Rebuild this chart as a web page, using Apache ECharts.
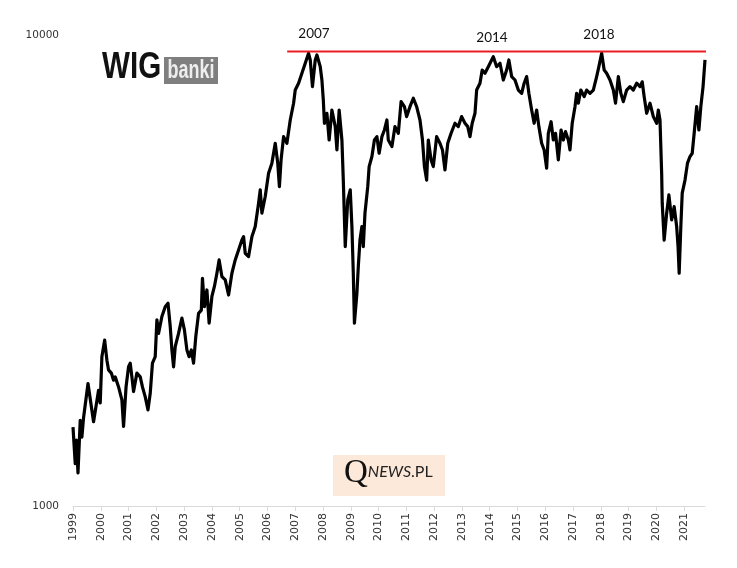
<!DOCTYPE html>
<html>
<head>
    <title>WIG banki 1999-2021</title>
    <meta charset="utf-8">
    <script src="https://cdn.jsdelivr.net/npm/echarts@6.0.0/dist/echarts.min.js"></script>
</head>
<body style="margin:0;background:#fff">
    <div id="main" style="width:737px;height:568px;"></div>
    <script type="text/javascript">
        // WIG banki (decimal year, index level)
        var years = [
            1999.0, 1999.08, 1999.12, 1999.18, 1999.26, 1999.32, 1999.38, 1999.54, 1999.74, 1999.92, 1999.98,
            2000.04, 2000.14, 2000.22, 2000.28, 2000.38, 2000.46, 2000.52, 2000.64, 2000.76, 2000.82, 2000.91,
            2001.0, 2001.06, 2001.12, 2001.18, 2001.3, 2001.42, 2001.5, 2001.6, 2001.7, 2001.78, 2001.86, 2001.96,
            2002.02, 2002.08, 2002.2, 2002.32, 2002.42, 2002.5, 2002.56, 2002.62, 2002.68, 2002.8, 2002.92,
            2003.01, 2003.1, 2003.18, 2003.26, 2003.34, 2003.42, 2003.52, 2003.62, 2003.66, 2003.73, 2003.82, 2003.9,
            2004.0, 2004.09, 2004.18, 2004.26, 2004.36, 2004.48, 2004.6, 2004.72, 2004.84, 2004.96,
            2005.08, 2005.14, 2005.2, 2005.32, 2005.44, 2005.56, 2005.68, 2005.74, 2005.8, 2005.92,
            2006.04, 2006.16, 2006.28, 2006.37, 2006.43, 2006.49, 2006.58, 2006.7, 2006.82, 2006.94,
            2007.0, 2007.12, 2007.24, 2007.36, 2007.48, 2007.54, 2007.62, 2007.72, 2007.78, 2007.9, 2007.96,
            2008.01, 2008.05, 2008.14, 2008.22, 2008.32, 2008.44, 2008.5, 2008.58, 2008.68, 2008.73, 2008.8, 2008.89, 2008.98,
            2009.04, 2009.09, 2009.13, 2009.22, 2009.27, 2009.33, 2009.4, 2009.45, 2009.51, 2009.61, 2009.66, 2009.76, 2009.85, 2009.94,
            2010.02, 2010.12, 2010.21, 2010.3, 2010.35, 2010.48, 2010.59, 2010.71, 2010.81, 2010.93,
            2011.01, 2011.13, 2011.25, 2011.37, 2011.49, 2011.58, 2011.65, 2011.73, 2011.79, 2011.89, 2011.97,
            2012.09, 2012.21, 2012.3, 2012.39, 2012.49, 2012.61, 2012.75, 2012.87, 2012.99,
            2013.11, 2013.21, 2013.29, 2013.37, 2013.47, 2013.53, 2013.65, 2013.73, 2013.83, 2013.95,
            2014.07, 2014.13, 2014.25, 2014.37, 2014.49, 2014.61, 2014.69, 2014.79, 2014.91,
            2015.03, 2015.15, 2015.24, 2015.33, 2015.41, 2015.51, 2015.6, 2015.69, 2015.77, 2015.87, 2015.96,
            2016.05, 2016.11, 2016.21, 2016.29, 2016.37, 2016.47, 2016.57, 2016.65, 2016.73, 2016.83, 2016.89, 2016.97,
            2017.07, 2017.13, 2017.19, 2017.28, 2017.4, 2017.49, 2017.61, 2017.73, 2017.85, 2017.93,
            2018.03, 2018.12, 2018.21, 2018.33, 2018.45, 2018.53, 2018.63, 2018.72, 2018.81, 2018.93,
            2019.05, 2019.17, 2019.29, 2019.41, 2019.49, 2019.56, 2019.65, 2019.77, 2019.89,
            2020.01, 2020.07, 2020.13, 2020.19, 2020.21, 2020.28, 2020.37, 2020.45, 2020.55, 2020.64, 2020.73, 2020.78, 2020.82, 2020.88, 2020.93,
            2021.03, 2021.12, 2021.21, 2021.29, 2021.36, 2021.45, 2021.53, 2021.6, 2021.68, 2021.75
        ];
        var values = [
            1470, 1230, 1380, 1175, 1520, 1400, 1540, 1820, 1510, 1760, 1655,
            2075, 2250, 2040, 1945, 1915, 1850, 1880, 1790, 1680, 1475, 1790,
            1975, 2010, 1880, 1750, 1915, 1880, 1790, 1705, 1600, 1735, 2010, 2075,
            2485, 2325, 2525, 2650, 2695, 2405, 2145, 1975, 2180, 2325, 2505,
            2365, 2145, 2075, 2145, 2010, 2290, 2565, 2605, 3045, 2650, 2875, 2445,
            2785, 2925, 3120, 3330, 3070, 3020, 2805, 3120, 3330, 3495,
            3670, 3730, 3440, 3385, 3730, 3920, 4395, 4690, 4185, 4540,
            5085, 5345, 5890, 5345, 4765, 5430, 6085, 5890, 6600, 7165,
            7640, 7900, 8295, 8710, 9145, 8850, 7770, 8850, 9070, 8565, 8025,
            7280, 6495, 6820, 5985, 6930, 6390, 5700, 6930, 5985, 4920, 3555, 4465, 4690,
            3920, 3120, 2445, 2830, 3225, 3670, 3920, 3555, 4185, 4765, 5255, 5520, 5985, 6085,
            5610, 6085, 6285, 6600, 5985, 5795, 6390, 6185, 7220, 7045,
            6710, 7045, 7340, 7045, 6600, 5985, 5255, 4920, 5985, 5430, 5255,
            6085, 5890, 5700, 5170, 5890, 6185, 6495, 6390, 6710,
            6495, 6390, 6085, 6495, 6820, 7640, 7900, 8425, 8295, 8565,
            8850, 8995, 8565, 8710, 8025, 8425, 8850, 8160, 8025,
            7640, 7520, 7900, 8160, 7520, 6930, 6495, 6930, 6390, 5890, 5700,
            5215, 6185, 6545, 5985, 6185, 5430, 6285, 5985, 6235, 5985, 5700, 6495,
            7045, 7520, 7165, 7640, 7400, 7640, 7520, 7640, 8160, 8565,
            9145, 8425, 8295, 8025, 7640, 7165, 8160, 7520, 7220, 7640,
            7770, 7640, 7900, 7770, 7955, 7400, 6820, 7165, 6710,
            6495, 6930, 6600, 5085, 4395, 3670, 4185, 4575, 4050, 4320, 3920, 3555, 3120, 3920, 4615,
            4920, 5345, 5520, 5610, 6185, 7045, 6285, 7045, 7770, 8850
        ];

        var tickYears = [];
        for (var y = 1999; y <= 2021; y++) tickYears.push(y);
        var yTicks = [1000, 10000];

        // red "previous highs" level
        var peakLevel = 9230;
        var peakLineYears = [2006.71, 2022.37];
        var peakLabels = ['2007', '2014', '2018'];

        var lineData = [];
        for (var i = 0; i < Math.min(years.length, values.length); i++) {
            lineData.push([years[i], values[i]]);
        }

        var myChart = echarts.init(document.getElementById('main'));

        var option = {
            backgroundColor: '#fff',
            animation: false,
            grid: {
                left: 73,
                right: 32,
                top: 35,
                bottom: 62
            },
            xAxis: {
                type: 'value',
                min: 1999,
                max: 2021.75,
                splitLine: { show: false },
                axisLine: { lineStyle: { color: '#d9d9d9', width: 1 } },
                axisTick: {
                    customValues: tickYears,
                    length: 5,
                    lineStyle: { color: '#d9d9d9' }
                },
                axisLabel: {
                    customValues: tickYears,
                    rotate: 90,
                    margin: 7,
                    fontFamily: 'DejaVu Sans',
                    fontSize: 11,
                    color: '#333',
                    formatter: function (v) { return String(v); }
                }
            },
            yAxis: {
                type: 'log',
                logBase: 10,
                min: 1000,
                max: 10000,
                splitLine: { show: false },
                axisLine: { show: false },
                axisTick: { show: false },
                axisLabel: {
                    customValues: yTicks,
                    margin: 14,
                    fontFamily: 'DejaVu Sans',
                    fontSize: 10.5,
                    color: '#333',
                    formatter: function (v) { return String(Math.round(v)); }
                }
            },
            series: [{
                name: 'WIG banki',
                type: 'line',
                data: lineData,
                showSymbol: false,
                lineStyle: { color: '#000', width: 3.2, join: 'round' },
                z: 3
            }, {
                name: 'level',
                type: 'line',
                clip: false,
                data: [[peakLineYears[0], peakLevel], [peakLineYears[1], peakLevel]],
                showSymbol: false,
                lineStyle: { color: '#ec1c24', width: 2 },
                z: 4
            }],
            graphic: [
                // peak year labels
                { type: 'text', x: 314, y: 34, style: { text: peakLabels[0], fontFamily: 'Lato', fontSize: 13.5, fill: '#111', align: 'center', verticalAlign: 'middle' } },
                { type: 'text', x: 492, y: 38, style: { text: peakLabels[1], fontFamily: 'Lato', fontSize: 13.5, fill: '#111', align: 'center', verticalAlign: 'middle' } },
                { type: 'text', x: 599, y: 35, style: { text: peakLabels[2], fontFamily: 'Lato', fontSize: 13.5, fill: '#111', align: 'center', verticalAlign: 'middle' } },
                // WIG banki logo
                { type: 'rect', shape: { x: 164, y: 57, width: 54, height: 27 }, style: { fill: '#7f7f7f' } },
                { type: 'text', x: 102, y: 86, scaleX: 0.8, style: { text: 'WIG', fontFamily: 'Liberation Sans', fontWeight: 'bold', fontSize: 37, fill: '#111', verticalAlign: 'bottom' } },
                { type: 'text', x: 191, y: 71, scaleX: 0.72, style: { text: 'banki', fontFamily: 'Liberation Sans', fontWeight: 'bold', fontSize: 25, fill: '#eeeeee', align: 'center', verticalAlign: 'middle' } },
                // QNEWS.PL badge
                { type: 'rect', shape: { x: 333, y: 455, width: 112, height: 41 }, style: { fill: '#fde9da' } },
                {
                    type: 'text', x: 344, y: 490,
                    style: {
                        text: '{q|Q}{n|NEWS}{p|.PL}',
                        verticalAlign: 'bottom',
                        rich: {
                            q: { fontFamily: 'Liberation Serif', fontSize: 33, fill: '#111' },
                            n: { fontFamily: 'Lato', fontStyle: 'italic', fontSize: 16, fill: '#222', padding: [0, 0, 3, 0] },
                            p: { fontFamily: 'Lato', fontSize: 16, fill: '#222', padding: [0, 0, 3, 0] }
                        }
                    }
                }
            ]
        };

        myChart.setOption(option);
    </script>
</body>
</html>
